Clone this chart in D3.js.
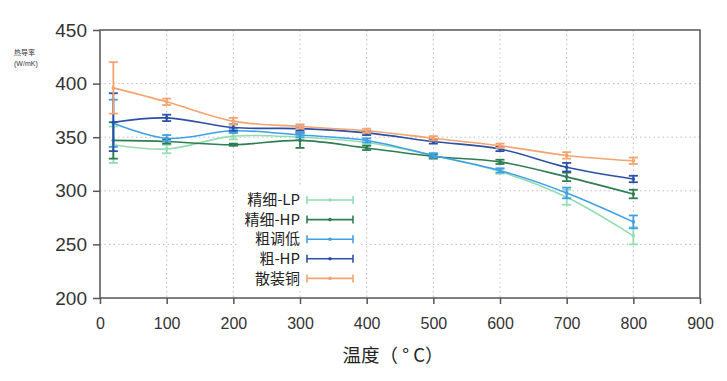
<!DOCTYPE html>
<html><head><meta charset="utf-8">
<script src="https://cdn.jsdelivr.net/npm/d3@7"></script>
<style>body{margin:0;background:#fff}svg{display:block}</style>
</head><body>
<svg id="c" width="727" height="381"></svg>
<script>
const temps = [20, 100, 200, 300, 400, 500, 600, 700, 800];
const seriesNames = ["精细-LP", "精细-HP", "粗调低", "粗-HP", "散装铜"];
const seriesColors = ["#93ddb2", "#2f7d52", "#3fa0e6", "#2b50a6", "#f5a36f"];
const lpMean = [343, 339, 351, 350, 345, 333, 318, 294, 258];
const lpErr  = [17, 4, 3, 2, 2, 2, 2, 7, 8];
const hpMean = [347, 346, 343, 347, 340, 332, 327, 313, 297];
const hpErr  = [17, 2, 1, 7, 2, 2, 2, 4, 4];
const ctMean = [363, 349, 356, 352, 347, 333, 319, 298, 271];
const ctErr  = [22, 3, 2, 2, 2, 2, 2, 5, 6];
const chpMean = [364, 368, 359, 358, 354, 346, 339, 322, 311];
const chpErr  = [27, 3, 3, 2, 2, 2, 2, 4, 3];
const cuMean = [396, 383, 365, 360, 356, 349, 342, 333, 328];
const cuErr  = [24, 3, 3, 2, 2, 2, 2, 3, 3];
const xTicks = [0, 100, 200, 300, 400, 500, 600, 700, 800, 900];
const yTicks = [200, 250, 300, 350, 400, 450];

const means = [lpMean, hpMean, ctMean, chpMean, cuMean];
const errs = [lpErr, hpErr, ctErr, chpErr, cuErr];

const svg = d3.select("#c");
const L = 100, R = 700, T = 30, B = 298;
const x = d3.scaleLinear().domain([0, 900]).range([L, R]);
const y = d3.scaleLinear().domain([200, 450]).range([B, T]);
const font = "Liberation Sans, Arial, sans-serif";

// grid
const g = svg.append("g");
g.selectAll(".gx").data(xTicks.slice(1, -1)).enter().append("line")
  .attr("x1", d => x(d)).attr("x2", d => x(d)).attr("y1", T).attr("y2", B)
  .attr("stroke", "#bdbdbd").attr("stroke-width", 1).attr("stroke-dasharray", "1.5,3");
g.selectAll(".gy").data(yTicks.slice(1, -1)).enter().append("line")
  .attr("y1", d => y(d)).attr("y2", d => y(d)).attr("x1", L).attr("x2", R)
  .attr("stroke", "#bdbdbd").attr("stroke-width", 1).attr("stroke-dasharray", "1.5,3");

// series
const line = d3.line().curve(d3.curveCatmullRom.alpha(0.5));
means.forEach((m, si) => {
  const col = seriesColors[si];
  const pts = temps.map((t, i) => [x(t), y(m[i])]);
  svg.append("path").attr("d", line(pts)).attr("fill", "none")
    .attr("stroke", col).attr("stroke-width", 1.6);
  const eg = svg.append("g").attr("stroke", col).attr("stroke-width", 1.8);
  temps.forEach((t, i) => {
    const cx = x(t), y1 = y(m[i] + errs[si][i]), y2 = y(m[i] - errs[si][i]);
    eg.append("line").attr("x1", cx).attr("x2", cx).attr("y1", y1).attr("y2", y2);
    eg.append("line").attr("x1", cx - 4.5).attr("x2", cx + 4.5).attr("y1", y1).attr("y2", y1);
    eg.append("line").attr("x1", cx - 4.5).attr("x2", cx + 4.5).attr("y1", y2).attr("y2", y2);
    svg.append("circle").attr("cx", cx).attr("cy", y(m[i])).attr("r", 1.8).attr("fill", col);
  });
});

// legend
const lg = svg.append("g");
lg.append("rect").attr("x", 238).attr("y", 187).attr("width", 122).attr("height", 102).attr("fill", "#fff");
seriesNames.forEach((n, i) => {
  const ly = 200 + i * 19.6;
  const col = seriesColors[i];
  lg.append("text").attr("x", 300).attr("y", ly).attr("dy", "0.35em").attr("text-anchor", "end")
    .attr("font-family", "Noto Sans CJK SC, sans-serif").attr("font-size", 15).attr("fill", "#222").text(n);
  lg.append("line").attr("x1", 307).attr("x2", 353).attr("y1", ly).attr("y2", ly).attr("stroke", col).attr("stroke-width", 1.6);
  [307, 353].forEach(xx => lg.append("line").attr("x1", xx).attr("x2", xx).attr("y1", ly - 4).attr("y2", ly + 4).attr("stroke", col).attr("stroke-width", 1.6));
  lg.append("circle").attr("cx", 330).attr("cy", ly).attr("r", 1.8).attr("fill", col);
});

// frame
svg.append("rect").attr("x", L).attr("y", T).attr("width", R - L).attr("height", B - T)
  .attr("fill", "none").attr("stroke", "#555").attr("stroke-width", 1.5);

// axes
const xa = svg.append("g").attr("transform", `translate(0,${B})`)
  .call(d3.axisBottom(x).tickValues(xTicks).tickSize(6).tickPadding(14));
const ya = svg.append("g").attr("transform", `translate(${L},0)`)
  .call(d3.axisLeft(y).tickValues(yTicks).tickSize(7).tickPadding(6));
[xa, ya].forEach(a => {
  a.select(".domain").remove();
  a.selectAll(".tick line").attr("stroke", "#555").attr("stroke-width", 1.5);
  a.selectAll("text").attr("font-family", font).attr("fill", "#333");
});
xa.selectAll("text").attr("font-size", 16);
ya.selectAll("text").attr("font-size", 19);

// titles
svg.append("text").attr("x", 14).attr("y", 55).attr("font-family", "Noto Sans CJK SC, sans-serif")
  .attr("font-size", 7).attr("fill", "#333").text("热导率");
svg.append("text").attr("x", 14).attr("y", 66).attr("font-family", font)
  .attr("font-size", 7).attr("fill", "#333").text("(W/mK)");
svg.append("text").attr("x", 393).attr("y", 362).attr("text-anchor", "middle")
  .attr("font-family", "Noto Sans CJK SC, sans-serif").attr("font-size", 18.5).attr("fill", "#222")
  .attr("xml:space", "preserve").text("温度（ ° C）");
</script>
</body></html>
